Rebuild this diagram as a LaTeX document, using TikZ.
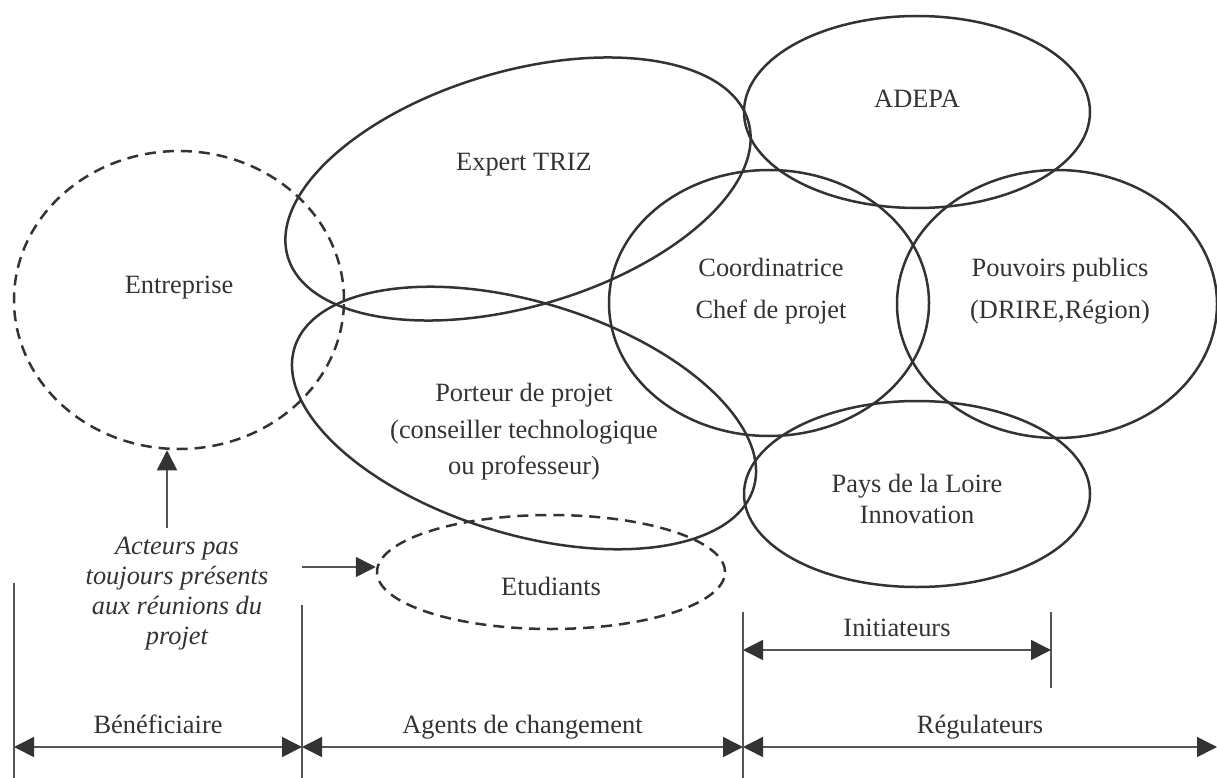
\documentclass[tikz,border=0pt]{standalone}
\usepackage{fontspec}
\setmainfont{Liberation Serif}
\usetikzlibrary{positioning,arrows.meta,shapes.geometric}
\definecolor{ink}{HTML}{333333}
\definecolor{rulegray}{HTML}{555555}
\newcommand{\lblfont}[1]{\fontsize{26.4pt}{#1}\selectfont}

\begin{document}
\begin{tikzpicture}[x=1pt, y=-1pt,
  actor/.style={draw=ink, line width=2.5pt, ellipse, inner sep=0pt},
  guest/.style={actor, dash pattern=on 11pt off 7pt},
  txt/.style={text=ink, inner sep=0pt, anchor=north, align=center,
              font=\lblfont{30pt}},
  arr/.style={-{Triangle[length=20pt,width=20pt,color=ink]}, line width=1.6pt,
              draw=rulegray},
  dim/.style={{Triangle[length=20pt,width=20pt,color=ink]}-{Triangle[length=20pt,width=20pt,color=ink]},
              line width=1.5pt, draw=rulegray},
  rule/.style={draw=rulegray, line width=1.5pt},
  dimlbl/.style={text=ink, font=\lblfont{30pt}, inner sep=0pt,
                 text depth=0pt, above=13pt},
]
  \useasboundingbox (0,0) rectangle (1217,778);

  % actors
  \node[guest, minimum width=330pt, minimum height=298pt] (ent) at (179,300) {};
  \node[actor, rotate=16.4, minimum width=480pt, minimum height=235pt] (expert) at (518,189) {};
  \node[actor, rotate=-17, minimum width=480pt, minimum height=232pt] (porteur) at (524,418) {};
  \node[guest, minimum width=348pt, minimum height=114pt] (etud) at (551,572) {};
  \node[actor, minimum width=320pt, minimum height=266pt] (coord) at (769,303) {};
  \node[actor, minimum width=320pt, minimum height=268pt] (pouv) at (1057,304) {};
  \node[actor, minimum width=346pt, minimum height=192pt] (adepa) at (917,112) {};
  \node[actor, minimum width=346pt, minimum height=186pt] (pays) at (917,494) {};

  % labels
  \node[txt] (adepaT) at (917,90) {ADEPA};
  \node[txt] (expertT) at (524,153) {Expert TRIZ};
  \node[txt] (entT) at (179,276) {Entreprise};
  \node[txt, font=\lblfont{42pt}] (coordT) at (771,258) {Coordinatrice\\Chef de projet};
  \node[txt, font=\lblfont{42pt}] (pouvT) at (1060,258) {Pouvoirs publics\\(DRIRE,Région)};
  \node[txt, font=\lblfont{36.5pt}] (porteurT) at (524,383)
    {Porteur de projet\\(conseiller technologique\\ou professeur)};
  \node[txt, font=\lblfont{31pt}] (paysT) at (917,474) {Pays de la Loire\\Innovation};
  \node[txt] (etudT) at (551,577) {Etudiants};
  \node[txt, font=\itshape\lblfont{30pt}] (note) at (177,537)
    {Acteurs pas\\toujours présents\\aux réunions du\\projet};

  % note arrows
  \coordinate (src) at (302,567);
  \draw[arr] ([xshift=-10pt,yshift=9pt]note.north) -- ([xshift=-10pt]note.north |- ent.south);
  \draw[arr] (src) -- (src -| etud.west);

  % roles
  \draw[rule] (14,583) -- (14,778);
  \draw[rule] (302,605) -- (302,778);
  \draw[rule] (743,612) -- (743,778);
  \draw[rule] (1051,612) -- (1051,688);

  \coordinate (b0) at (14,747);
  \coordinate (b1) at (302,747);
  \coordinate (b2) at (743,747);
  \coordinate (b3) at (1217,747);
  \coordinate (i0) at (743,650);
  \coordinate (i1) at (1051,650);

  \draw[dim] (i0) -- node[midway, dimlbl] (initT) {Initiateurs} (i1);
  \draw[dim] (b0) -- node[midway, dimlbl] (benT) {Bénéficiaire} (b1);
  \draw[dim] (b1) -- node[midway, dimlbl] (agentsT) {Agents de changement} (b2);
  \draw[dim] (b2) -- node[midway, dimlbl] (regT) {Régulateurs} (b3);
\end{tikzpicture}
\end{document}
